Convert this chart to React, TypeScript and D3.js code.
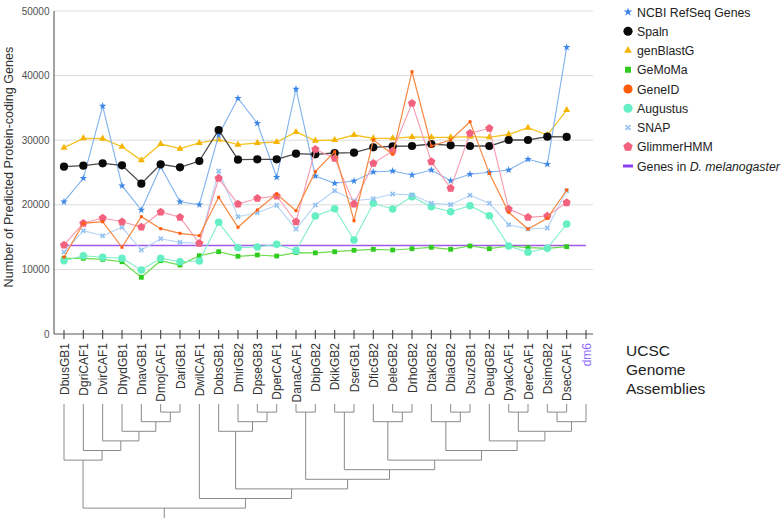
import React from "react";
import * as d3 from "d3";

const categories = [
  "DbusGB1", "DgriCAF1", "DvirCAF1", "DhydGB1", "DnavGB1", "DmojCAF1", "DariGB1", "DwilCAF1",
  "DobsGB1", "DmirGB2", "DpseGB3", "DperCAF1", "DanaCAF1", "DbipGB2", "DkikGB2", "DserGB1",
  "DficGB2", "DeleGB2", "DrhoGB2", "DtakGB2", "DbiaGB2", "DsuzGB1", "DeugGB2", "DyakCAF1",
  "DereCAF1", "DsimGB2", "DsecCAF1", "dm6",
];

const ncbi = [20480, 24100, 35290, 22960, 19200, 25900, 20480, 20020, 30800, 36490, 32610, 24260, 37930, 24460, 23330, 23680, 25080, 25230, 24610, 25390, 23730, 24720, 25030, 25390, 27040, 26270, 44380];
const spaln = [25900, 26050, 26420, 26110, 23270, 26270, 25800, 26780, 31580, 26990, 27040, 27040, 27910, 27820, 28020, 28070, 28900, 29060, 29100, 29410, 29210, 29100, 29100, 30030, 30030, 30540, 30500];
const genBlastG = [28840, 30290, 30240, 28990, 26880, 29410, 28690, 29570, 30080, 29310, 29570, 29720, 31270, 29930, 30030, 30800, 30290, 30290, 30500, 30440, 30440, 30540, 30440, 30900, 31940, 30800, 34670];
const gemoma = [11720, 11720, 11560, 11190, 8780, 11350, 10680, 12120, 12740, 12030, 12230, 12070, 12590, 12560, 12740, 12960, 13110, 13000, 13200, 13420, 13110, 13620, 13210, 13620, 13360, 13260, 13520];
const geneid = [11900, 17130, 17380, 13420, 18160, 16300, 15590, 15220, 21160, 16520, 19200, 21670, 19090, 25130, 28220, 17540, 30030, 27820, 40600, 29100, 30030, 32860, 24870, 18840, 16250, 17910, 22290];
const augustus = [11350, 12120, 11870, 11720, 9910, 11720, 11190, 11300, 17290, 13360, 13470, 13880, 12900, 18270, 19400, 14550, 20230, 19350, 21260, 19710, 18930, 19860, 18310, 13620, 12650, 13260, 17030];
const snap = [12690, 15990, 15220, 16520, 13000, 14750, 14190, 14040, 25230, 18160, 18780, 19920, 16250, 19970, 22180, 20630, 20940, 21670, 21540, 20230, 20020, 21470, 20230, 16920, 16250, 16410, 22180];
const glimmer = [13780, 17130, 17960, 17380, 16560, 18890, 18060, 14040, 24100, 20120, 21000, 21360, 17380, 28590, 27200, 20120, 26420, 28330, 35710, 26680, 22550, 31070, 31840, 19350, 18060, 18270, 20330];
const melanogasterGenes = 13700;

const yTicks = [0, 10000, 20000, 30000, 40000, 50000];

const tree = [
  ["DbusGB1", ["DgriCAF1", ["DvirCAF1", ["DhydGB1", ["DnavGB1", ["DmojCAF1", "DariGB1"]]]]]],
  ["DwilCAF1", [
    ["DobsGB1", ["DmirGB2", ["DpseGB3", "DperCAF1"]]],
    [["DanaCAF1", "DbipGB2"], [["DkikGB2", "DserGB1"], [["DficGB2", ["DeleGB2", "DrhoGB2"]],
      [["DtakGB2", ["DbiaGB2", "DsuzGB1"]], ["DeugGB2", [["DyakCAF1", "DereCAF1"], [["DsimGB2", "DsecCAF1"], "dm6"]]]]]]],
  ]],
];

const FONT = "'Liberation Sans', Arial, Helvetica, sans-serif";

type Marker = "star" | "circle" | "triangle" | "square" | "smallsquare" | "x" | "pentagon";

interface Series {
  name: string;
  values: number[];
  line: string;
  fill: string;
  marker: Marker;
  legendMarker: Marker;
  size: number;
  legendSize: number;
  lw: number;
}

const seriesDraw: Series[] = [
  { name: "genBlastG", values: genBlastG, line: "#f7c21e", fill: "#f5b400", marker: "triangle", legendMarker: "triangle", size: 3.1, legendSize: 3.4, lw: 1.3 },
  { name: "NCBI RefSeq Genes", values: ncbi, line: "#7fb1ef", fill: "#3b86e6", marker: "star", legendMarker: "star", size: 2.6, legendSize: 3.0, lw: 1.1 },
  { name: "Spaln", values: spaln, line: "#4a4a4a", fill: "#0a0a0a", marker: "circle", legendMarker: "circle", size: 4.1, legendSize: 4.6, lw: 1.3 },
  { name: "GeMoMa", values: gemoma, line: "#6bdc4a", fill: "#2fcc1f", marker: "square", legendMarker: "square", size: 2.4, legendSize: 3.0, lw: 1.2 },
  { name: "Augustus", values: augustus, line: "#7ceec9", fill: "#66eec4", marker: "circle", legendMarker: "circle", size: 3.8, legendSize: 4.6, lw: 1.1 },
  { name: "SNAP", values: snap, line: "#b3d3f6", fill: "#8fbff2", marker: "x", legendMarker: "x", size: 2.0, legendSize: 2.3, lw: 1.1 },
  { name: "GlimmerHMM", values: glimmer, line: "#f79aae", fill: "#f2627e", marker: "pentagon", legendMarker: "pentagon", size: 4.3, legendSize: 5.0, lw: 1.1 },
  { name: "GeneID", values: geneid, line: "#f7873f", fill: "#ff5a0a", marker: "smallsquare", legendMarker: "circle", size: 1.5, legendSize: 4.6, lw: 1.2 },
];

const legendOrder = ["NCBI RefSeq Genes", "Spaln", "genBlastG", "GeMoMa", "GeneID", "Augustus", "SNAP", "GlimmerHMM"];

function markerPath(m: Marker, s: number): string {
  if (m === "circle") return d3.symbol(d3.symbolCircle, Math.PI * s * s)() as string;
  if (m === "square" || m === "smallsquare") return d3.symbol(d3.symbolSquare, 4 * s * s)() as string;
  if (m === "triangle") return d3.symbol(d3.symbolTriangle, s * s * 2.2)() as string;
  if (m === "star") return d3.symbol(d3.symbolStar, s * s * 2.6)() as string;
  if (m === "x") {
    const a = s;
    const w = 0.8;
    return `M${-a - w},${-a + w}L${-a + w},${-a - w}L0,${-w}L${a - w},${-a - w}L${a + w},${-a + w}L${w},0L${a + w},${a - w}L${a - w},${a + w}L0,${w}L${-a + w},${a + w}L${-a - w},${a - w}L${-w},0Z`;
  }
  const pts = d3.range(5).map((k) => {
    const ang = -Math.PI / 2 + (k * 2 * Math.PI) / 5;
    return [s * Math.cos(ang), s * Math.sin(ang)];
  });
  return "M" + pts.map((p) => p.join(",")).join("L") + "Z";
}

export default function App() {
  const width = 781;
  const height = 521;
  const x = d3.scalePoint<string>().domain(categories).range([64, 586]);
  const y = d3.scaleLinear().domain([0, 50000]).range([334, 11]);
  const axisLeft = 54;
  const axisRight = 593;

  const line = d3
    .line<number>()
    .x((_, i) => x(categories[i]) as number)
    .y((d) => y(d));

  const root = d3.hierarchy<any>(tree, (d) => (Array.isArray(d) ? d : null));
  const leafTop = 404;
  const levelY = (h: number) => 402.5 + h * 9.6;
  const pos = new Map<any, { x: number; y: number }>();
  root.eachAfter((n) => {
    if (!n.children) {
      pos.set(n, { x: x(n.data as string) as number, y: leafTop });
    } else {
      const xs = n.children.map((c) => pos.get(c)!.x);
      pos.set(n, { x: (xs[0] + xs[xs.length - 1]) / 2, y: levelY(n.height) });
    }
  });
  const treeSegs: string[] = [];
  root.each((n) => {
    if (!n.children) return;
    const p = pos.get(n)!;
    const cs = n.children.map((c) => pos.get(c)!);
    treeSegs.push(`M${cs[0].x},${p.y}H${cs[cs.length - 1].x}`);
    cs.forEach((c) => treeSegs.push(`M${c.x},${c.y}V${p.y}`));
  });
  const rp = pos.get(root)!;
  treeSegs.push(`M${rp.x},${rp.y}V518`);

  const byName = new Map(seriesDraw.map((s) => [s.name, s]));

  return (
    <svg
      width={width}
      height={height}
      style={{ position: "absolute", left: 0, top: 0, background: "#fff" }}
      fontFamily={FONT}
    >
      <rect width={width} height={height} fill="#fff" />
      {yTicks.filter((t) => t > 0).map((t) => (
        <line key={t} x1={axisLeft} x2={axisRight} y1={y(t)} y2={y(t)} stroke="#dcdcdc" strokeWidth={1} />
      ))}
      {yTicks.map((t) => (
        <text key={t} x={49.5} y={y(t) + 3.5} textAnchor="end" fontSize={10} fill="#505050">
          {t}
        </text>
      ))}
      <text transform={`translate(13,167) rotate(-90)`} textAnchor="middle" fontSize={12.6} fill="#333">
        Number of Predicted Protein-coding Genes
      </text>
      <line x1={axisLeft} x2={axisLeft} y1={y(50000)} y2={y(0)} stroke="#666" strokeWidth={1.2} />
      <line x1={axisLeft} x2={axisRight} y1={y(0)} y2={y(0)} stroke="#555" strokeWidth={1.2} />
      {categories.map((c) => (
        <line key={c} x1={x(c)} x2={x(c)} y1={330} y2={339} stroke="#444" strokeWidth={1.1} />
      ))}
      <line
        x1={x(categories[0])}
        x2={x("dm6")}
        y1={y(melanogasterGenes)}
        y2={y(melanogasterGenes)}
        stroke="#a15ae8"
        strokeWidth={1.6}
      />
      {seriesDraw.map((s) => (
        <g key={s.name}>
          <path d={line(s.values) as string} fill="none" stroke={s.line} strokeWidth={s.lw} />
          {s.values.map((v, i) => (
            <path
              key={i}
              d={markerPath(s.marker, s.size)}
              transform={`translate(${x(categories[i])},${y(v)})`}
              fill={s.fill}
            />
          ))}
        </g>
      ))}
      {categories.map((c) => (
        <text
          key={c}
          transform={`translate(${(x(c) as number) + 4.5},343) rotate(-90)`}
          textAnchor="end"
          fontSize={12}
          fill={c === "dm6" ? "#8f6cff" : "#333"}
        >
          {c}
        </text>
      ))}
      <path d={treeSegs.join("")} fill="none" stroke="#8a8a8a" strokeWidth={1} />
      {["UCSC", "Genome", "Assemblies"].map((t, i) => (
        <text key={t} x={626} y={356 + i * 19} fontSize={15.5} fill="#222">
          {t}
        </text>
      ))}
      {legendOrder.map((name, i) => {
        const s = byName.get(name)!;
        const cy = 12 + i * 19.25;
        return (
          <g key={name}>
            <path d={markerPath(s.legendMarker, s.legendSize)} transform={`translate(628,${cy})`} fill={s.fill} />
            <text x={637} y={cy + 4.5} fontSize={12.3} fill="#222">
              {name}
            </text>
          </g>
        );
      })}
      <g>
        <line x1={623} x2={633} y1={12 + 8 * 19.25} y2={12 + 8 * 19.25} stroke="#8a3ff0" strokeWidth={3} />
        <text x={637} y={12 + 8 * 19.25 + 4.5} fontSize={12.3} fill="#222">
          Genes in <tspan fontStyle="italic">D. melanogaster</tspan>
        </text>
      </g>
    </svg>
  );
}
